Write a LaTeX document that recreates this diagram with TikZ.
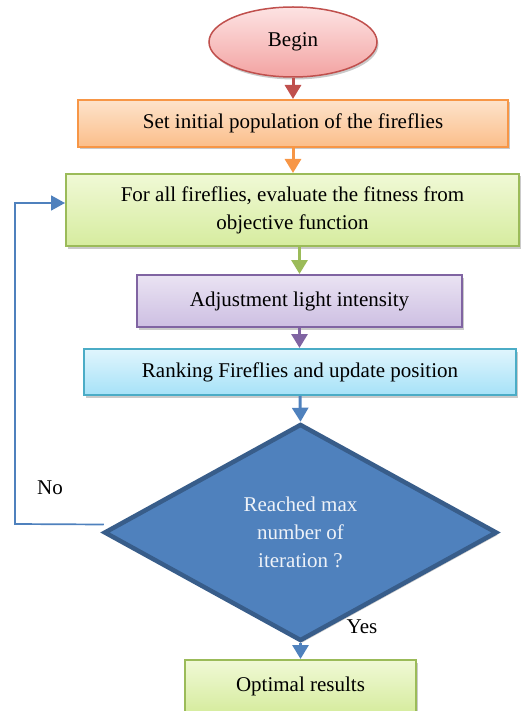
\documentclass[tikz,border=0pt]{standalone}
\usepackage{fontspec}
\setmainfont{Liberation Serif}
\usetikzlibrary{arrows.meta,shapes.geometric,shadows}
\definecolor{rEdge}{HTML}{C0504D}
\definecolor{rTop}{HTML}{FDE3E3}
\definecolor{rBot}{HTML}{F3A3A2}
\definecolor{oEdge}{HTML}{F79646}
\definecolor{oTop}{HTML}{FDE3CB}
\definecolor{oBot}{HTML}{FBBE8A}
\definecolor{gEdge}{HTML}{9BBB59}
\definecolor{gTop}{HTML}{F0F9D6}
\definecolor{gBot}{HTML}{D6EC9F}
\definecolor{pEdge}{HTML}{8064A2}
\definecolor{pTop}{HTML}{EAE3F3}
\definecolor{pBot}{HTML}{CDBFE2}
\definecolor{cEdge}{HTML}{4BACC6}
\definecolor{cTop}{HTML}{E0F5FD}
\definecolor{cBot}{HTML}{A6E2F8}
\definecolor{bFill}{HTML}{4F81BD}
\definecolor{bEdge}{HTML}{385D8A}
\definecolor{dText}{HTML}{EEF2F8}
\tikzset{
  base/.style={font=\fontsize{21}{28}\selectfont, align=center, inner sep=0pt,
    drop shadow={shadow xshift=1.5pt,shadow yshift=-2.5pt,opacity=0.35,fill=black!60}},
  stepbox/.style={base, rectangle, line width=2pt},
  conn/.style={line width=3pt, -{Triangle[width=16pt,length=14pt]}},
}
\begin{document}
\begin{tikzpicture}[x=1pt,y=-1pt]
\useasboundingbox (0,0) rectangle (520,711);
\node[base, ellipse, line width=1.5pt, draw=rEdge, top color=rTop, bottom color=rBot,
  minimum width=168pt, minimum height=70pt] (begin) at (293,42) {Begin};
\node[stepbox, draw=oEdge, top color=oTop, bottom color=oBot,
  minimum width=430pt, minimum height=47pt] (init) at (293,123.5) {Set initial population of the fireflies};
\node[stepbox, draw=gEdge, top color=gTop, bottom color=gBot,
  minimum width=453pt, minimum height=72pt] (eval) at (292.5,210) {For all fireflies, evaluate the fitness from\\objective function};
\node[stepbox, draw=pEdge, top color=pTop, bottom color=pBot,
  minimum width=325pt, minimum height=52pt] (adj) at (299.5,301) {Adjustment light intensity};
\node[stepbox, draw=cEdge, top color=cTop, bottom color=cBot,
  minimum width=432pt, minimum height=46pt] (rank) at (300,372) {Ranking Fireflies and update position};
\node[base, diamond, line width=4.5pt, draw=bEdge, fill=bFill, text=dText, drop shadow={opacity=0},
  minimum width=393pt, minimum height=217pt] (dec) at (300.5,532.5) {Reached max\\number of\\iteration ?};
\node[stepbox, draw=gEdge, top color=gTop, bottom color=gBot,
  minimum width=231pt, minimum height=52pt] (opt) at (300.5,686) {Optimal results};
\node[font=\fontsize{21}{28}\selectfont, inner sep=0pt] (yes) at (362,627) {Yes};
\node[font=\fontsize{21}{28}\selectfont, inner sep=0pt] (no) at (50,488) {No};
\coordinate (corner) at (15,524);
\draw[conn, draw=rEdge, fill=rEdge] (begin.south) -- (init.north);
\draw[conn, draw=oEdge, fill=oEdge] (init.south) -- (eval.north -| init.south);
\draw[conn, draw=gEdge, fill=gEdge] (eval.south -| adj.north) -- (adj.north);
\draw[conn, draw=pEdge, fill=pEdge] (adj.south) -- (rank.north -| adj.south);
\draw[conn, draw=bFill, fill=bFill] (rank.south) -- (dec.north);
\draw[conn, draw=bFill, fill=bFill] (dec.south) -- (opt.north);
\draw[line width=1.7pt, draw=bFill, -{Triangle[width=15pt,length=14pt]}]
  ([xshift=2pt,yshift=8pt]dec.west) -- (corner) |- ([yshift=7pt]eval.west);
\end{tikzpicture}
\end{document}
